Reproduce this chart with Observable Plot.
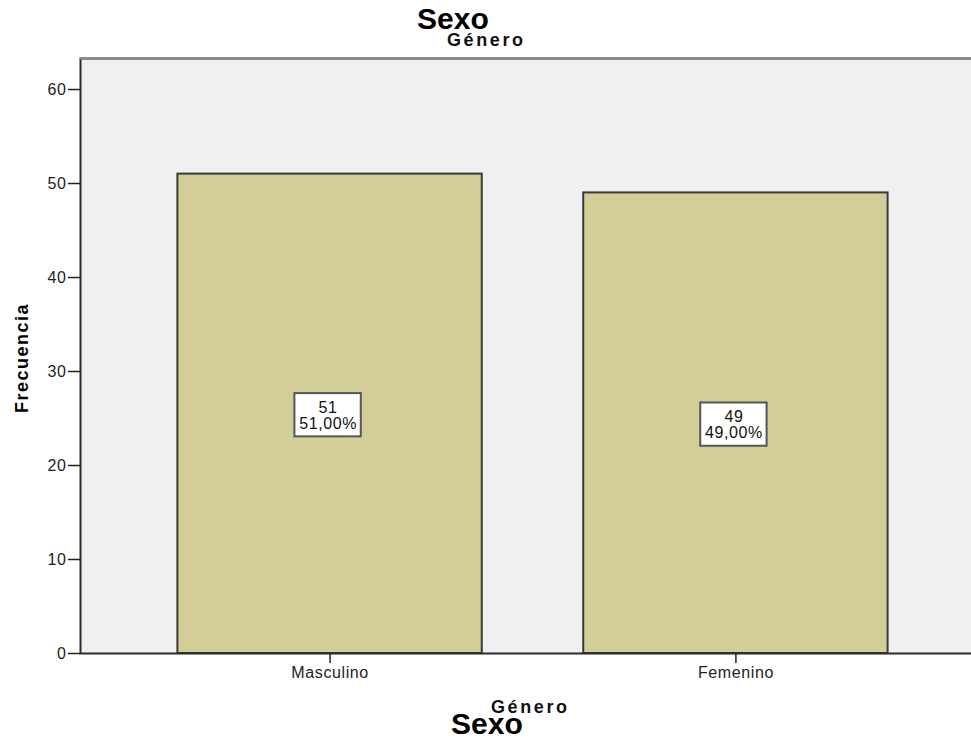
<!DOCTYPE html>
<html>
<head>
<meta charset="utf-8">
<script src="https://cdn.jsdelivr.net/npm/d3@7"></script>
<script src="https://cdn.jsdelivr.net/npm/@observablehq/plot@0.6"></script>
<style>
  html, body { margin: 0; padding: 0; background: #fff; overflow: hidden; }
  #wrap { position: relative; width: 971px; height: 744px; overflow: hidden; font-family: "Liberation Sans", Arial, sans-serif; }
  #chart { position: absolute; left: 0; top: 0; width: 985px; }
  #chart svg { max-width: none !important; width: 985px !important; height: 744px !important; }
  .t { position: absolute; white-space: nowrap; font-weight: bold; color: #000; }
  .big { font-size: 30px; }
  .small { font-size: 18px; letter-spacing: 2.6px; color: #111; }
</style>
</head>
<body>
<div id="wrap">
  <div id="chart"></div>
  <div class="t big" style="left:417px; top:2px;">Sexo</div>
  <div class="t small" style="left:447px; top:30px;">Género</div>
  <div class="t small" style="left:491px; top:697px;">Género</div>
  <div class="t big" style="left:451px; top:707px;">Sexo</div>
  <div class="t" style="left:22px; top:358px; font-size:18px; letter-spacing:1.5px; transform: translate(-50%,-50%) rotate(-90deg);">Frecuencia</div>
</div>
<script>
// Frequency of respondents by sex
const categorias = ["Masculino", "Femenino"];
const frecuencias = [51, 49];
const porcentajes = ["51,00%", "49,00%"];
const yTicks = [0, 10, 20, 30, 40, 50, 60];
const yMax = 63.3;

const datos = categorias.map((c, i) => ({
  sexo: c,
  frecuencia: frecuencias[i],
  etiqueta: `${frecuencias[i]}\n${porcentajes[i]}`
}));

const chart = Plot.plot({
  width: 985,
  height: 744,
  marginTop: 58,
  marginBottom: 91,
  marginLeft: 80,
  marginRight: 0,
  style: { fontFamily: "'Liberation Sans', Arial, sans-serif", fontSize: "16px", color: "#222", background: "transparent" },
  x: { domain: categorias, paddingInner: 0.25, paddingOuter: 0.24, round: false, label: null },
  y: { domain: [0, yMax], label: null },
  marks: [
    Plot.frame({ fill: "#f0f0f0", stroke: null }),
    Plot.barY(datos, { x: "sexo", y: "frecuencia", fill: "#d3ce98", stroke: "#3a3a3a", strokeWidth: 2 }),
    // value boxes centred at half the bar height
    Plot.barY(datos, {
      x: "sexo",
      y1: d => d.frecuencia / 2 - 2.45,
      y2: d => d.frecuencia / 2 + 2.15,
      insetLeft: 117, insetRight: 121,
      fill: "white", stroke: "#555", strokeWidth: 2
    }),
    Plot.text(datos, {
      x: "sexo", y: d => d.frecuencia / 2, text: "etiqueta",
      fill: "#111", fontSize: 16, lineHeight: 1, dy: 2, dx: -2
    }),
    Plot.frame({ stroke: "#2a2a2a", strokeWidth: 2 }),
    Plot.ruleY([yMax], { stroke: "#8a8a8a", strokeWidth: 2 }),
    Plot.axisY({ ticks: yTicks, tickSize: 12, tickPadding: 2, label: null, stroke: "#222", strokeWidth: 1.5 }),
    Plot.axisX({ tickSize: 10, tickPadding: 3, label: null, stroke: "#222", strokeWidth: 1.5 })
  ]
});
d3.select(chart).selectAll("text").style("letter-spacing", "0.6px");
document.getElementById("chart").append(chart);
</script>
</body>
</html>
